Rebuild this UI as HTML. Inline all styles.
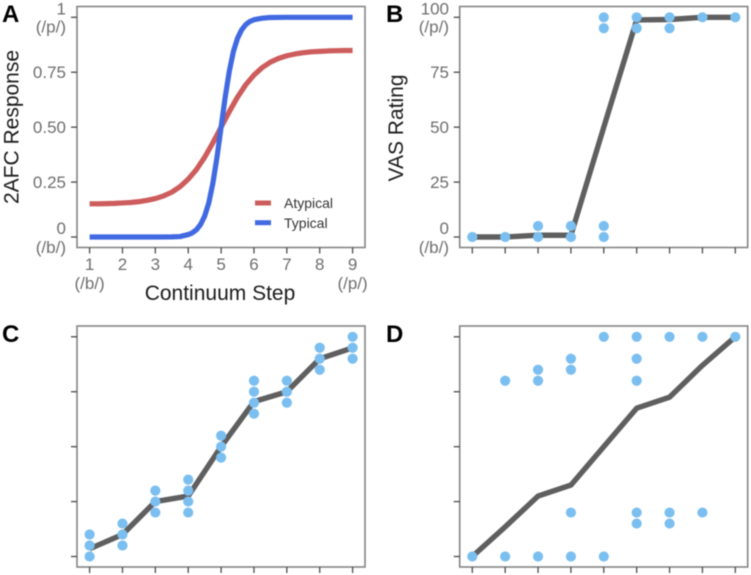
<!DOCTYPE html>
<html lang="en">
<head>
<meta charset="utf-8">
<title>Continuum categorization panels</title>
<style>
html,body{margin:0;padding:0;background:#fff;width:751px;height:575px;overflow:hidden}
svg{display:block;filter:blur(0.4px)}
text{font-family:"Liberation Sans",Arial,sans-serif}
</style>
</head>
<body>
<svg id="figure" width="751" height="575" viewBox="0 0 751 575" xmlns="http://www.w3.org/2000/svg"></svg>
<script>
// ---- Data ----
const steps = [1, 2, 3, 4, 5, 6, 7, 8, 9];
const atypicalSteps = [1,1.25,1.5,1.75,2,2.25,2.5,2.75,3,3.25,3.5,3.75,4,4.25,4.5,4.75,5,5.25,5.5,5.75,6,6.25,6.5,6.75,7,7.25,7.5,7.75,8,8.25,8.5,8.75,9];
const atypicalResponse = [0.151,0.151,0.152,0.153,0.155,0.157,0.161,0.167,0.175,0.187,0.204,0.229,0.263,0.307,0.363,0.429,0.5,0.571,0.637,0.693,0.737,0.771,0.796,0.813,0.825,0.833,0.839,0.843,0.845,0.847,0.848,0.849,0.849];
const typicalSteps = [1,2,3,3.5,3.75,4,4.125,4.25,4.375,4.5,4.625,4.75,4.875,5,5.125,5.25,5.375,5.5,5.625,5.75,5.875,6,6.25,6.5,7,8,9];
const typicalResponse = [0,0,0,0.0005,0.002,0.011,0.019,0.033,0.057,0.095,0.155,0.245,0.363,0.5,0.637,0.755,0.845,0.905,0.943,0.967,0.981,0.989,0.996,0.999,1,1,1];
const responseTicks = [0, 0.25, 0.5, 0.75, 1];
const responseTickLabels = ["0", "0.25", "0.50", "0.75", "1"];
const vasTicks = [0, 25, 50, 75, 100];
const vasTickLabels = ["0", "25", "50", "75", "100"];

const meanB = [0, 0, 0.8, 0.8, 50, 98.8, 99, 100, 100];
const ratingsB = [[0],[0],[0,5],[0,5],[0,5,95,100],[95,100],[95,100],[100],[100]];

const meanC = [3.5, 10, 25, 27.5, 50, 70.5, 75, 90, 95];
const ratingsC = [[0,5,10],[5,10,15],[20,25,30],[20,25,30,35],[45,50,55],[65,70,75,80],[70,75,80],[85,90,95],[90,95,100]];

const meanD = [0, 13.5, 27.5, 32.5, 50, 67.5, 72.5, 87, 100];
const ratingsD = [[0],[0,80],[0,80,85],[0,20,85,90],[0,100],[15,20,80,90,100],[15,20,100],[20,100],[100]];

// ---- Helpers ----
const NS = "http://www.w3.org/2000/svg";
const fig = document.getElementById("figure");
function make(tag, attrs, parent, txt) {
  const n = document.createElementNS(NS, tag);
  for (const k in attrs) n.setAttribute(k, attrs[k]);
  if (txt !== undefined) n.textContent = txt;
  (parent || fig).appendChild(n);
  return n;
}
function axisX(left) { return s => left + 12.6 + (s - 1) * (263 / 8); }
function axisY(top, max) { return v => top + 10.8 + (1 - v / max) * 219.7; }
function polyline(xs, ys, sx, sy) {
  return xs.map((x, i) => (i ? "L" : "M") + sx(x).toFixed(2) + " " + sy(ys[i]).toFixed(2)).join(" ");
}
const TICK = "#4a4a4a", LABEL = "#6e6e6e", BORDER = "#858585", INK = "#1c1c1c";

function frame(g, left, top, sx, sy, yTicks) {
  const border = make("rect", {x: left, y: top, width: 288, height: 241, fill: "none", stroke: BORDER, "stroke-width": 1.6}, g);
  
  
  steps.forEach(s => {
    const t = make("line", {x1: sx(s), x2: sx(s), y1: top + 241, y2: top + 247, stroke: TICK, "stroke-width": 1.3}, g);
    
    
  });
  yTicks.forEach(v => {
    const t = make("line", {x1: left - 6, x2: left, y1: sy(v), y2: sy(v), stroke: TICK, "stroke-width": 1.3}, g);
    
    
  });
}
function yLabels(g, right, sy, ticks, labels) {
  ticks.forEach((v, i) => {
    const extreme = i === 0 || i === ticks.length - 1;
    const dy = extreme ? -3 : 6;
    const t = make("text", {x: right, y: sy(v) + dy, "text-anchor": "end", "font-size": 17, fill: LABEL}, g, labels[i]);
    
    
    if (extreme) {
      const sub = make("text", {x: right, y: sy(v) + (i === 0 ? 16 : 15), "text-anchor": "end", "font-size": 17, fill: LABEL}, g, i === 0 ? "(/b/)" : "(/p/)");
      
      
    }
  });
}
function panelLetter(x, y, s) {
  const t = make("text", {x: x, y: y, "font-size": 24, "font-weight": "bold", fill: "#000"}, fig, s);
  
  
}
function ratingPanel(name, left, top, mean, ratings) {
  const g = make("g", {});
  
  
  const sx = axisX(left), sy = axisY(top, 100);
  frame(g, left, top, sx, sy, vasTicks);
  const line = make("path", {d: polyline(steps, mean, sx, sy), fill: "none", stroke: "#5f5f5f", "stroke-width": 5.4, "stroke-linejoin": "round"}, g);
  
  
  ratings.forEach((vals, i) => vals.forEach(v => {
    const c = make("circle", {cx: sx(steps[i]), cy: sy(v), r: 5.1, fill: "#7bbff0"}, g);
    
    
  }));
  return {g, sx, sy};
}

// ---- Panel A ----
(function () {
  const left = 77, top = 6.5;
  const g = make("g", {});
  
  
  const sx = axisX(left), sy = axisY(top, 1);
  frame(g, left, top, sx, sy, responseTicks);
  yLabels(g, 66, sy, responseTicks, responseTickLabels);
  const atyp = make("path", {d: polyline(atypicalSteps, atypicalResponse, sx, sy), fill: "none", stroke: "#cd5c5c", "stroke-width": 5.2, "stroke-linejoin": "round"}, g);
  
  
  const typ = make("path", {d: polyline(typicalSteps, typicalResponse, sx, sy), fill: "none", stroke: "#4169e1", "stroke-width": 5.2, "stroke-linejoin": "round"}, g);
  
  
  steps.forEach(s => {
    const t = make("text", {x: sx(s), y: 270, "text-anchor": "middle", "font-size": 17, fill: LABEL}, g, String(s));
    
    
  });
  const b = make("text", {x: sx(1), y: 289, "text-anchor": "middle", "font-size": 17, fill: LABEL}, g, "(/b/)");
  
  
  const p = make("text", {x: sx(9), y: 289, "text-anchor": "middle", "font-size": 17, fill: LABEL}, g, "(/p/)");
  
  
  const xt = make("text", {x: 220, y: 300, "text-anchor": "middle", "font-size": 21, fill: INK}, g, "Continuum Step");
  
  
  const yt = make("text", {transform: "translate(18.5 127) rotate(-90)", "text-anchor": "middle", "font-size": 21, fill: INK}, g, "2AFC Response");
  
  

  const la = make("line", {x1: 255, x2: 271, y1: 203, y2: 203, stroke: "#cd5c5c", "stroke-width": 5}, g);
  
  
  const lat = make("text", {x: 284, y: 208, "font-size": 14, fill: "#333"}, g, "Atypical");
  
  
  const lb = make("line", {x1: 255, x2: 271, y1: 222.7, y2: 222.7, stroke: "#4169e1", "stroke-width": 5}, g);
  
  
  const lbt = make("text", {x: 284, y: 228, "font-size": 14, fill: "#333"}, g, "Typical");
  
  
})();

// ---- Panels B, C, D ----
const panelB = ratingPanel('panel-b-vas-rating', 459.7, 6.5, meanB, ratingsB);
yLabels(panelB.g, 449, panelB.sy, vasTicks, vasTickLabels);
const vasTitle = make("text", {transform: "translate(403 128) rotate(-90)", "text-anchor": "middle", "font-size": 21, fill: INK}, panelB.g, "VAS Rating");



ratingPanel('panel-c-gradient-listener', 77, 326, meanC, ratingsC);
ratingPanel('panel-d-bimodal-listener', 459.7, 326, meanD, ratingsD);

panelLetter(2, 22, "A");
panelLetter(386, 22, "B");
panelLetter(2, 342, "C");
panelLetter(386, 342, "D");
</script>
</body>
</html>
